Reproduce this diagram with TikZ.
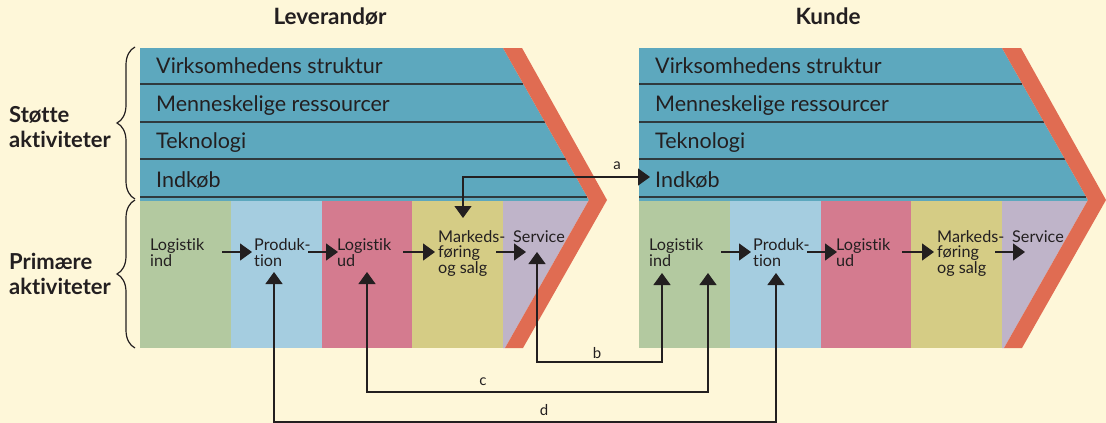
\documentclass[tikz,border=0pt]{standalone}
\usepackage{fontspec}
\setmainfont{Lato}[Ligatures=NoCommon]
\usetikzlibrary{arrows.meta,decorations.pathreplacing}
\definecolor{bgc}{HTML}{FEF7D9}
\definecolor{tealc}{HTML}{5DA8BE}
\definecolor{redc}{HTML}{E06C52}
\definecolor{greenc}{HTML}{B3C9A0}
\definecolor{lbluec}{HTML}{A5CDE0}
\definecolor{pinkc}{HTML}{D47B8F}
\definecolor{yellowc}{HTML}{D5CC85}
\definecolor{lavc}{HTML}{BFB4C9}
\definecolor{inkc}{HTML}{231F20}
\definecolor{sepc}{HTML}{2F3A3E}
\tikzset{
  suptext/.style={anchor=base west, font=\fontsize{21.5}{24}\selectfont, text=inkc, inner sep=0pt},
  primtext/.style={anchor=base west, align=left, font=\fontsize{16.2}{15.3}\selectfont, text=inkc, inner sep=0pt},
  headtext/.style={anchor=base, font=\bfseries\fontsize{22.5}{24}\selectfont, text=inkc, inner sep=0pt},
  sidetext/.style={anchor=base west, align=left, font=\bfseries\fontsize{22}{24.5}\selectfont, text=inkc, inner sep=0pt},
  lbltext/.style={font=\fontsize{15}{17}\selectfont, text=inkc, inner sep=0pt},
  conn/.style={draw=inkc, line width=1.4pt, -{Triangle[width=17pt,length=12pt]}},
  conn2/.style={draw=inkc, line width=1.4pt, {Triangle[width=17pt,length=12pt]}-{Triangle[width=17pt,length=12pt]}},
  sepline/.style={draw=sepc, line width=1.8pt},
  bracestyle/.style={draw=inkc, line width=1.2pt, decorate, decoration={brace, amplitude=18pt}},
}
\newcommand{\valuechain}[1]{%
  \fill[tealc] (140,48) -- (503,48) -- (589,200) -- (588.4,201) -- (140,201) -- cycle;
  \fill[greenc] (140,201) rectangle (231,348);
  \fill[lbluec] (231,201) rectangle (322,348);
  \fill[pinkc] (322,201) rectangle (412,348);
  \fill[yellowc] (412,201) rectangle (503,348);
  \fill[lavc] (503,201) -- (588.4,201) -- (505,348) -- (503,348) -- cycle;
  \draw[sepline] (140,84) -- (523.4,84);
  \draw[sepline] (140,122) -- (544.9,122);
  \draw[sepline] (140,159) -- (565.8,159);
  \draw[sepline] (140,197) -- (587.3,197);
  \fill[redc] (503,48) -- (522,48) -- (607,200) -- (523,348) -- (505,348) -- (589,200) -- cycle;
  \node[suptext] (#1vs) at (156,73) {Virksomhedens struktur};
  \node[suptext] (#1mr) at (156,111) {Menneskelige ressourcer};
  \node[suptext] (#1tk) at (156,148) {Teknologi};
  \node[suptext] (#1ik) at (156,187) {Indkøb};
  \node[primtext] (#1li) at (150,266) {Logistik\\ind};
  \node[primtext] (#1pr) at (254,266) {Produk-\\tion};
  \node[primtext] (#1lu) at (337,266) {Logistik\\ud};
  \node[primtext] (#1mf) at (438,273) {Markeds-\\føring\\og salg};
  \node[primtext] (#1sv) at (513,242) {Service};
  \coordinate (#1a1) at (222,252); \coordinate (#1a2) at (252,252);
  \coordinate (#1b1) at (308,252); \coordinate (#1b2) at (338,252);
  \coordinate (#1c1) at (403,252); \coordinate (#1c2) at (435,252);
  \coordinate (#1d1) at (496,252); \coordinate (#1d2) at (526,252);
  \draw[conn] (#1a1) -- (#1a2);
  \draw[conn] (#1b1) -- (#1b2);
  \draw[conn] (#1c1) -- (#1c2);
  \draw[conn] (#1d1) -- (#1d2);
}
\begin{document}
\begin{tikzpicture}[x=1pt,y=-1pt]
  \fill[bgc] (0,0) rectangle (1106,423);
  \useasboundingbox (0,0) rectangle (1106,423);
  \begin{scope}
    \valuechain{L}
  \end{scope}
  \begin{scope}[xshift=499pt]
    \valuechain{R}
  \end{scope}
  \node[headtext] (hL) at (330,24) {Leverandør};
  \node[headtext] (hR) at (828,24) {Kunde};
  \node[sidetext] (st) at (9,147) {Støtte\\aktiviteter};
  \node[sidetext] (pa) at (9,294) {Primære\\aktiviteter};
  \coordinate (bt1) at (135,199); \coordinate (bt2) at (135,47);
  \coordinate (bb1) at (135,348); \coordinate (bb2) at (135,200);
  \draw[bracestyle] (bt1) -- (bt2);
  \draw[bracestyle] (bb1) -- (bb2);
  % connector endpoints
  \coordinate (La) at (463,218);
  \coordinate (Ra) at (650,177);
  \coordinate (Lsv) at (537,252);
  \coordinate (Lpr) at (274,272);
  \coordinate (Llu) at (367,272);
  \coordinate (Rli1) at (662,273);
  \coordinate (Rli2) at (708,273);
  \coordinate (Rpr) at (776,273);
  \coordinate (bm) at (600,362);
  \coordinate (cm) at (540,392);
  \coordinate (dm) at (520,422);
  \draw[conn2] (La) |- (Ra);
  \draw[conn2] (Lsv) |- (bm) -| (Rli1);
  \draw[conn2] (Llu) |- (cm) -| (Rli2);
  \draw[conn2] (Lpr) |- (dm) -| (Rpr);
  \node[lbltext] (la) at (617,166) {a};
  \node[lbltext] (lb) at (597,353) {b};
  \node[lbltext] (lc) at (483,382) {c};
  \node[lbltext] (ld) at (544,410) {d};
\end{tikzpicture}
\end{document}
